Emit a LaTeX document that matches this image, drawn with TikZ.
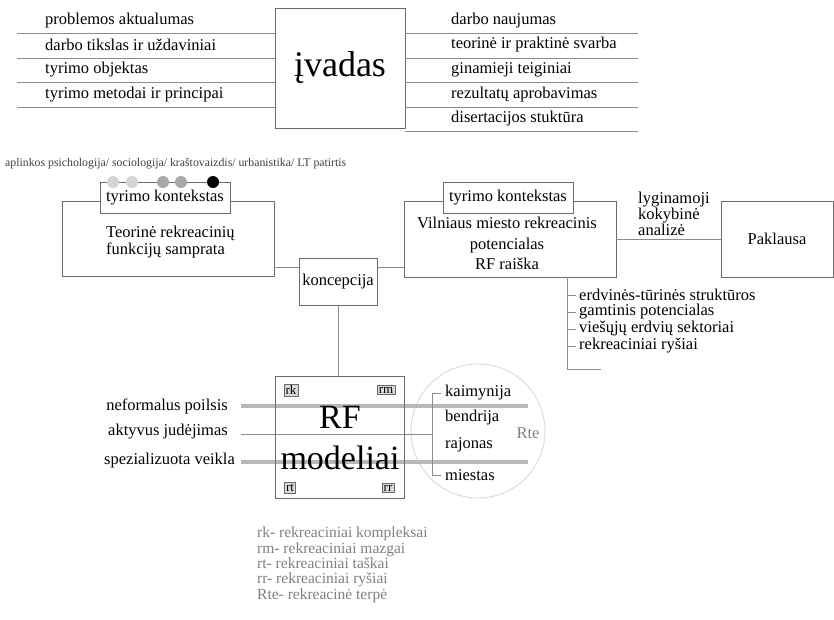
\documentclass[tikz,border=0pt]{standalone}
\usepackage{fontspec}
\setmainfont{Liberation Serif}
\definecolor{linegray}{gray}{0.55}
\definecolor{boxgray}{gray}{0.42}
\definecolor{bargray}{gray}{0.72}
\definecolor{dotlight}{gray}{0.83}
\definecolor{dotmid}{gray}{0.66}

\begin{document}
\begin{tikzpicture}[x=1pt,y=-1pt,
        box/.style={draw=boxgray, line width=0.9pt, fill=white, inner sep=0pt},
        rule/.style={draw=linegray, line width=0.9pt},
        bar/.style={draw=bargray, line width=4.5pt},
        txt/.style={font=\fontsize{16.5}{17}\selectfont, inner sep=0pt},
        item/.style={txt, anchor=west},
        tag/.style={draw=boxgray, fill=gray!30, inner sep=1.6pt,
            font=\fontsize{13}{13}\selectfont},
        dot/.style={circle, draw=none, minimum size=12, inner sep=0pt}]
    \useasboundingbox (0,0) rectangle (834,619);
    % ivadas and its table
    \node (ivadas) [box, minimum width=130, minimum height=120,
        font=\fontsize{36}{36}\selectfont] at (340,68) {įvadas};
    \draw[rule] (ivadas.west |- 0,33) -- (17,33);
    \draw[rule] (ivadas.west |- 0,58) -- (17,58);
    \draw[rule] (ivadas.west |- 0,82) -- (17,82);
    \draw[rule] (ivadas.west |- 0,107) -- (17,107);
    \draw[rule] (ivadas.east |- 0,33) -- (638,33);
    \draw[rule] (ivadas.east |- 0,58) -- (638,58);
    \draw[rule] (ivadas.east |- 0,82) -- (638,82);
    \draw[rule] (ivadas.east |- 0,107) -- (638,107);
    \draw[rule] (ivadas.east |- 0,131) -- (638,131);
    \node (l1) [item] at (45,21) {problemos aktualumas};
    \node (l2) [item] at (45,45) {darbo tikslas ir uždaviniai};
    \node (l3) [item] at (45,70) {tyrimo objektas};
    \node (l4) [item] at (45,95) {tyrimo metodai ir principai};
    \node (r1) [item] at (451,21) {darbo naujumas};
    \node (r2) [item] at (451,45) {teorinė ir praktinė svarba};
    \node (r3) [item] at (451,70) {ginamieji teiginiai};
    \node (r4) [item] at (451,95) {rezultatų aprobavimas};
    \node (r5) [item] at (451,119) {disertacijos stuktūra};

    % teorija
    \node (teor) [box, minimum width=212, minimum height=75] at (168,238.5) {};
    \node (teortxt) [txt, anchor=west, align=left] at (106,242.5)
        {Teorinė rekreacinių\\funkcijų samprata};
    \node (ctx1) [box, txt, minimum width=130, minimum height=31] at (165,197.5)
        {tyrimo kontekstas};
    \node (d1) [dot, fill=dotlight] at (113,182) {};
    \node (d2) [dot, fill=dotlight] at (132,182) {};
    \node (d3) [dot, fill=dotmid] at (163,182) {};
    \node (d4) [dot, fill=dotmid] at (181,182) {};
    \node (d5) [dot, fill=black] at (213,182) {};
    \node (sritys) [anchor=west, inner sep=0pt, text=black!75,
        font=\fontsize{11.8}{12}\selectfont] at (5,164)
        {aplinkos psichologija/ sociologija/ kraštovaizdis/ urbanistika/ LT patirtis};

    % koncepcija
    \node (konc) [box, txt, minimum width=78, minimum height=47] at (338,281.5)
        {koncepcija};
    \draw[rule] ([yshift=14.5]konc.west) -- ([yshift=14.5]konc.west -| teor.east);

    % Vilnius
    \node (viln) [box, minimum width=212, minimum height=76] at (510,239) {};
    \node (vilntxt) [txt, align=center, font=\fontsize{16.5}{20.5}\selectfont]
        at (507,243.5) {Vilniaus miesto rekreacinis\\potencialas\\RF raiška};
    \node (ctx2) [box, txt, minimum width=130, minimum height=31] at (508,197.5)
        {tyrimo kontekstas};
    \draw[rule] ([yshift=14.5]konc.east) -- ([yshift=14.5]konc.east -| viln.west);
    \node (pakl) [box, txt, minimum width=112, minimum height=76] at (777,239)
        {Paklausa};
    \draw[rule] (viln.east) -- (pakl.west);
    \node (lyg) [txt, anchor=west, align=left, font=\fontsize{16.5}{15}\selectfont]
        at (638,214) {lyginamoji\\kokybinė\\analizė};
    \coordinate (lst) at (viln.south -| 567,0);
    \draw[rule] (lst) |- (601,369);
    \draw[rule] (567,295) -- (576,295);
    \draw[rule] (567,312) -- (576,312);
    \draw[rule] (567,329) -- (576,329);
    \draw[rule] (567,346) -- (576,346);
    \node (s1) [item] at (579,295) {erdvinės-tūrinės struktūros};
    \node (s2) [item] at (579,312) {gamtinis potencialas};
    \node (s3) [item] at (579,329) {viešųjų erdvių sektoriai};
    \node (s4) [item] at (579,346) {rekreaciniai ryšiai};

    % RF modeliai
    \node (rte) [circle, draw=gray!30, line width=0.9pt, minimum size=134,
        inner sep=0pt] at (478,431) {};
    \node (rtetxt) [txt, text=gray] at (528,433) {Rte};
    \draw[bar] (241,406) -- (528,406);
    \draw[bar] (241,462) -- (528,462);
    \draw[rule] (241,434) -- (432,434);
    \node (rf) [draw=boxgray, line width=0.9pt, minimum width=129,
        minimum height=122, inner sep=0pt] at (339.5,437) {};
    \draw[rule] (konc.south) -- (konc.south |- rf.north);
    \node (rftxt) [inner sep=0pt, font=\fontsize{34}{34}\selectfont] at (340,417) {RF};
    \node (modtxt) [inner sep=0pt, font=\fontsize{34}{34}\selectfont] at (340,458)
        {modeliai};
    \node (rk) [tag] at (291,390) {rk};
    \node (rm) [tag] at (386,390) {rm};
    \node (rt) [tag] at (290,488) {rt};
    \node (rr) [tag] at (388,488) {rr};
    \node (f1) [txt, anchor=east] at (228,406) {neformalus poilsis};
    \node (f2) [txt, anchor=east] at (228,432) {aktyvus judėjimas};
    \node (f3) [txt, anchor=east] at (235,461) {spezializuota veikla};
    \draw[rule] (441,393) -- (432,393) -- (432,475) -- (441,475);
    \node (m1) [item] at (445,393) {kaimynija};
    \node (m2) [item] at (445,418) {bendrija};
    \node (m3) [item] at (445,445) {rajonas};
    \node (m4) [item] at (445,475) {miestas};

    % legenda
    \node (legend) [txt, anchor=north west, align=left, text=gray,
        font=\fontsize{15.5}{15.3}\selectfont] at (257,527)
        {rk- rekreaciniai kompleksai\\rm- rekreaciniai mazgai\\rt- rekreaciniai taškai\\rr- rekreaciniai ryšiai\\Rte- rekreacinė terpė};
\end{tikzpicture}
\end{document}
